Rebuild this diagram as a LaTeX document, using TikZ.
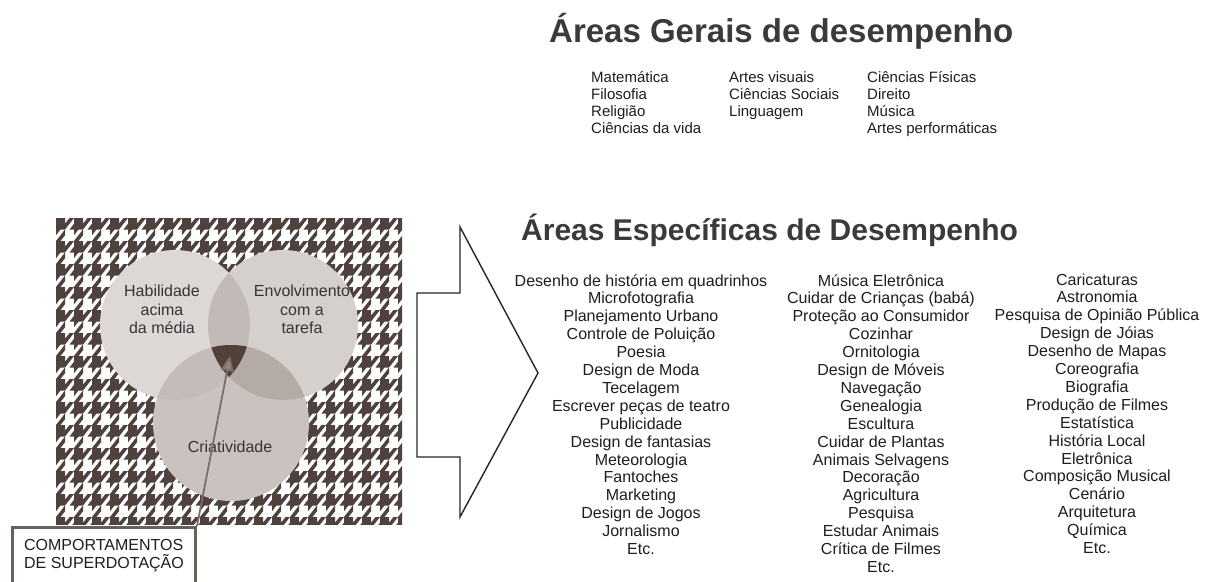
\documentclass[tikz,border=0pt]{standalone}
\usepackage{fontspec}
\setmainfont{Liberation Sans}
\usetikzlibrary{arrows.meta}
\definecolor{hdark}{HTML}{4E423E}
\definecolor{cH}{HTML}{DDD8D6}
\definecolor{cE}{HTML}{D6D0CD}
\definecolor{cC}{HTML}{CAC2BE}
\definecolor{cHE}{HTML}{C2BAB6}
\definecolor{cHC}{HTML}{C4BCB8}
\definecolor{cEC}{HTML}{B4ABA7}
\definecolor{ctri}{HTML}{513F3A}
\definecolor{arrowgray}{HTML}{7A6F6B}
\definecolor{headgray}{HTML}{8F8480}
\definecolor{boxgray}{HTML}{67605D}
\definecolor{ttl}{HTML}{3A3A3A}
\definecolor{txt}{HTML}{1E1E1E}
\begin{document}
\begin{tikzpicture}[x=1pt,y=-1pt,
  item/.style={font=\fontsize{16}{18}\selectfont, text=txt, inner sep=0pt, anchor=base},
  gen/.style={font=\fontsize{15}{17}\selectfont, text=txt, inner sep=0pt, anchor=base west},
  titletext/.style={font=\fontsize{33}{40}\selectfont\bfseries, text=ttl, inner sep=0pt, anchor=base west},
  venn/.style={font=\fontsize{16}{18.5}\selectfont, text=txt!90, inner sep=0pt, align=center},
  tooth/.style={fill=hdark},
  bigarrow/.style={draw=black!85, line width=1.4pt, line join=miter},
  pointer/.style={draw=arrowgray, line width=1.8pt, -{Triangle[length=15pt,width=13pt,fill=headgray]}},
  framebox/.style={draw=boxgray, line width=3pt, fill=white, minimum width=183pt, minimum height=56pt,
     inner sep=0pt, align=left, font=\fontsize{16}{18}\selectfont, text=txt}
]
\useasboundingbox (0,0) rectangle (1210,581);
\fill[white] (0,0) rectangle (1210,581);

% houndstooth background
\begin{scope}
\clip (56,218) rectangle (402,524);
\foreach \i in {-1,...,20}{
  \foreach \j in {-1,...,14}{
    \fill[tooth,shift={(56+18*\i,218+23*\j)},xscale=2.25,yscale=2.875]
      (0,0)--(4,-4)--(4,-2)--(2,0)--(4,0)--(4,2)--(6,0)--(8,0)--(4,4)--(2,4)--(0,6)--(0,4)--(-2,4)--(0,2)--cycle;
  }
}
\end{scope}

% Venn circles
\fill[cC] (231,423) circle (78pt);
\fill[cH] (175,325) circle (75pt);
\fill[cE] (283,325) circle (75pt);
\begin{scope}\clip (175,325) circle (75pt); \fill[cHE] (283,325) circle (75pt);\end{scope}
\begin{scope}\clip (175,325) circle (75pt); \fill[cHC] (231,423) circle (78pt);\end{scope}
\begin{scope}\clip (283,325) circle (75pt); \fill[cEC] (231,423) circle (78pt);\end{scope}
\begin{scope}\clip (175,325) circle (75pt); \clip (283,325) circle (75pt); \fill[ctri] (231,423) circle (78pt);\end{scope}

\node[venn] (hab) at (162,309.7) {Habilidade\\acima\\da média};
\node[venn] (env) at (302,309.7) {Envolvimento\\com a\\tarefa};
\node[venn, anchor=base] (cri) at (230,452) {Criatividade};

% box and pointer
\node[framebox, anchor=north west] (box) at (11,526) {COMPORTAMENTOS\\DE SUPERDOTAÇÃO};
\coordinate (tip) at (230,356);
\draw[pointer] (box.north east) -- (tip);

% big arrow
\draw[bigarrow] (417,293) -- (460,293) -- (460,227) -- (538,373) -- (460,517) -- (460,457) -- (417,457) -- cycle;

% titles
\node[titletext] (t1) at (549,42) {Áreas Gerais de desempenho};
\node[titletext, font=\fontsize{30}{36}\selectfont\bfseries] (t2) at (521,240) {Áreas Específicas de Desempenho};

% general areas
\foreach \t [count=\k] in {Matemática,Filosofia,Religião,Ciências da vida}
  \node[gen] (ga\k) at (591,{82.5+17*(\k-1)}) {\t};
\foreach \t [count=\k] in {Artes visuais,Ciências Sociais,Linguagem}
  \node[gen] (gb\k) at (729,{82.5+17*(\k-1)}) {\t};
\foreach \t [count=\k] in {Ciências Físicas,Direito,Música,Artes performáticas}
  \node[gen] (gc\k) at (867,{82.5+17*(\k-1)}) {\t};

% specific areas
\foreach \t [count=\k] in {Desenho de história em quadrinhos,Microfotografia,Planejamento Urbano,Controle de Poluição,Poesia,Design de Moda,Tecelagem,Escrever peças de teatro,Publicidade,Design de fantasias,Meteorologia,Fantoches,Marketing,Design de Jogos,Jornalismo,Etc.}
  \node[item] (sa\k) at (641,{286+17.9*(\k-1)}) {\t};
\foreach \t [count=\k] in {Música Eletrônica,Cuidar de Crianças (babá),Proteção ao Consumidor,Cozinhar,Ornitologia,Design de Móveis,Navegação,Genealogia,Escultura,Cuidar de Plantas,Animais Selvagens,Decoração,Agricultura,Pesquisa,Estudar Animais,Crítica de Filmes,Etc.}
  \node[item] (sb\k) at (881,{286+17.9*(\k-1)}) {\t};
\foreach \t [count=\k] in {Caricaturas,Astronomia,Pesquisa de Opinião Pública,Design de Jóias,Desenho de Mapas,Coreografia,Biografia,Produção de Filmes,Estatística,História Local,Eletrônica,Composição Musical,Cenário,Arquitetura,Química,Etc.}
  \node[item] (sc\k) at (1097,{285+17.9*(\k-1)}) {\t};
\end{tikzpicture}
\end{document}
